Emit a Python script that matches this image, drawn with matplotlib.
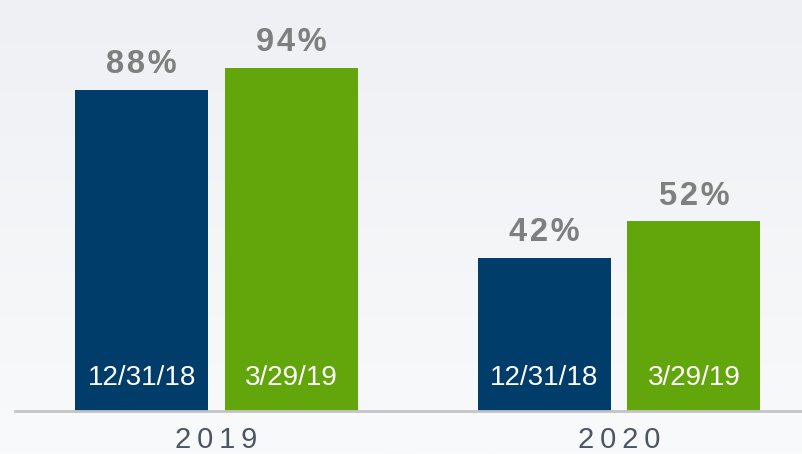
import matplotlib
matplotlib.use("Agg")
import matplotlib.pyplot as plt
import numpy as np

plt.rcParams['font.family'] = ['Liberation Sans', 'DejaVu Sans']

years = ["2019", "2020"]
series_names = ["12/31/18", "3/29/19"]
values_1231 = [88, 42]
values_0329 = [94, 52]
colors = ["#003d6b", "#62a60c"]

fig = plt.figure(figsize=(8.03, 4.54), dpi=100)

# background gradient
bg = fig.add_axes([0, 0, 1, 1], zorder=0)
grad = np.linspace(0, 1, 256).reshape(-1, 1)
top = np.array([0xee, 0xf0, 0xf4]) / 255
bot = np.array([0xf9, 0xfa, 0xfb]) / 255
img = top + (bot - top) * grad[:, :, None]
bg.imshow(img, aspect="auto", extent=[0, 1, 0, 1], origin="upper")
bg.axis("off")

ax = fig.add_axes([0.0187, 0.0947, 0.9813, 0.9053], zorder=1)
ax.patch.set_alpha(0)

x = np.arange(len(years))
w = 0.33
off = 0.186
all_vals = [values_1231, values_0329]
for i, (name, vals) in enumerate(zip(series_names, all_vals)):
    pos = x + (-off if i == 0 else off)
    ax.bar(pos, vals, width=w, color=colors[i], zorder=2)
    for p, v in zip(pos, vals):
        ax.text(p, v + 2.6, "\u200a".join(f"{v}%"), ha="center", va="bottom", fontsize=23.5,
                fontweight="bold", color="#7f7f7f")
        ax.text(p, 9.0, name, ha="center", va="center", fontsize=20,
                color="white", zorder=3)

ax.set_xlim(-0.5006, 1.457)
ax.set_ylim(0, 112.6)
for s in ["top", "right", "left"]:
    ax.spines[s].set_visible(False)
ax.spines["bottom"].set_color("#c4c4c4")
ax.spines["bottom"].set_linewidth(2)
ax.set_yticks([])
ax.set_xticks(x)
ax.set_xticklabels(["\u2009".join(y) for y in years], fontsize=21, color="#4b5563")
ax.tick_params(axis="x", length=0, pad=11)

fig.savefig("out.png", dpi=100)
